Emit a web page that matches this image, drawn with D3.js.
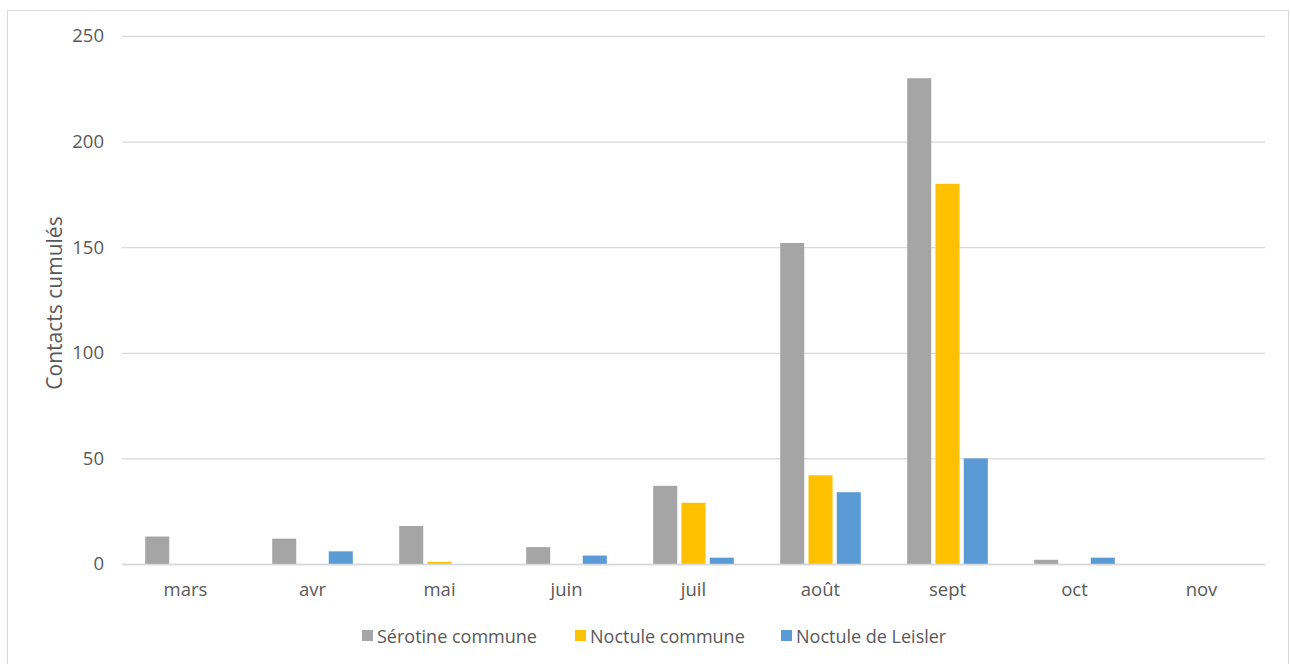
<!DOCTYPE html>
<html><head><meta charset="utf-8">
<script src="https://cdn.jsdelivr.net/npm/d3@7"></script>
<style>body{margin:0;background:#fff}svg{display:block}text{font-family:"Open Sans","Noto Sans",sans-serif;fill:#595959}</style>
</head><body><svg id="c" width="1290" height="664"></svg>
<script>
const months = ["mars","avr","mai","juin","juil","août","sept","oct","nov"];
const seriesNames = ["Sérotine commune","Noctule commune","Noctule de Leisler"];
const serotine = [13,12,18,8,37,152,230,2,0];
const noctule = [0,0,1,0,29,42,180,0,0];
const leisler = [0,6,0,4,3,34,50,3,0];
const yTicks = [0,50,100,150,200,250];
const colors = ["#A5A5A5","#FFC000","#5B9BD5"];
const values = [serotine, noctule, leisler];

const svg = d3.select("#c");
svg.append("rect").attr("x",7.5).attr("y",10.5).attr("width",1281).attr("height",660)
  .attr("fill","#fff").attr("stroke","#d9d9d9").attr("stroke-width",1);

const pL=122, pR=1265, pT=36, pB=564;
const x0 = d3.scaleBand().domain(months).range([pL,pR]).padding(0);
const x1 = d3.scaleBand().domain(seriesNames).range([0,x0.bandwidth()]).paddingInner(0.15).paddingOuter(0.82);
const y = d3.scaleLinear().domain([0,250]).range([pB,pT]);

// gridlines
const yAxis = d3.axisLeft(y).tickValues(yTicks).tickSize(-(pR-pL)).tickPadding(18);
const gy = svg.append("g").attr("transform",`translate(${pL},0)`).call(yAxis);
gy.select(".domain").remove();
gy.selectAll(".tick line").attr("stroke","#d9d9d9").attr("stroke-width",1.3);
gy.selectAll(".tick text").style("font-size","18.5px").attr("fill","#595959");

// bars
const data = [];
months.forEach((m,i)=>seriesNames.forEach((s,j)=>data.push({m,s,v:values[j][i],c:colors[j]})));
svg.append("g").selectAll("rect").data(data.filter(d=>d.v>0)).join("rect")
  .attr("x",d=>x0(d.m)+x1(d.s))
  .attr("width",x1.bandwidth())
  .attr("y",d=>y(d.v))
  .attr("height",d=>y(0)-y(d.v))
  .attr("fill",d=>d.c);

// x axis
const xAxis = d3.axisBottom(x0).tickSize(0).tickPadding(19);
const gx = svg.append("g").attr("transform",`translate(0,${pB})`).call(xAxis);
gx.select(".domain").attr("stroke","#d9d9d9").attr("stroke-width",1.5);
gx.selectAll(".tick text").style("font-size","18.5px").attr("fill","#595959");

// y label
svg.append("text").attr("transform","translate(62,303) rotate(-90)")
  .attr("text-anchor","middle").style("font-size","21px").text("Contacts cumulés");

// legend
const legX = [362,575,781];
const lg = svg.append("g");
seriesNames.forEach((s,j)=>{
  lg.append("rect").attr("x",legX[j]).attr("y",630).attr("width",11).attr("height",11).attr("fill",colors[j]);
  lg.append("text").attr("x",legX[j]+15).attr("y",643).style("font-size","18px").text(s);
});
</script></body></html>
